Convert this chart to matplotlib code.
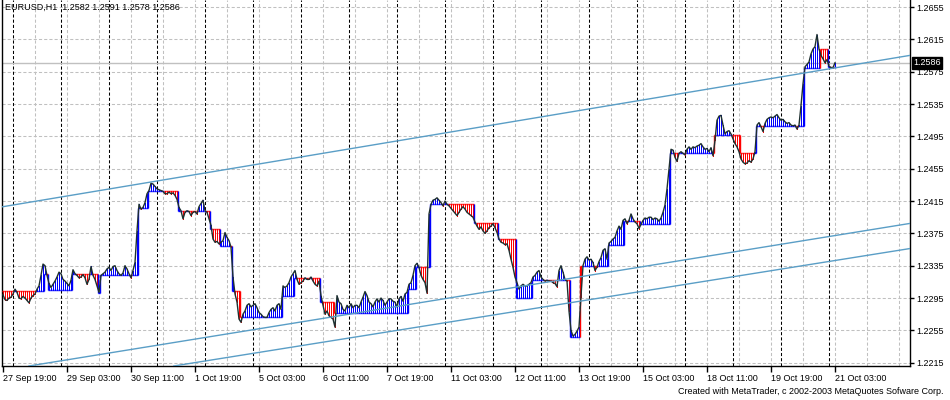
import numpy as np
import matplotlib
matplotlib.use("Agg")
import matplotlib.pyplot as plt
import matplotlib.transforms as mtrans
from matplotlib.collections import LineCollection

plt.rcParams['font.family'] = ['Liberation Sans', 'DejaVu Sans']

title_text = "EURUSD,H1  1.2582 1.2591 1.2578 1.2586"
credit_text = "Created with MetaTrader, c 2002-2003 MetaQuotes Sofware Corp."

# hourly closes, one per H1 bar (27 Sep 19:00 ... 21 Oct 03:00)
close = [
    1.2299, 1.2293, 1.2292, 1.2295, 1.2296, 1.2300, 1.2306, 1.2302, 1.2295, 1.2294,
    1.2297, 1.2295, 1.2292, 1.2289, 1.2295, 1.2298, 1.2300, 1.2306, 1.2310, 1.2323,
    1.2337, 1.2335, 1.2323, 1.2313, 1.2308, 1.2312, 1.2316, 1.2321, 1.2327, 1.2325,
    1.2318, 1.2316, 1.2313, 1.2310, 1.2317, 1.2330, 1.2325, 1.2323, 1.2320, 1.2321,
    1.2324, 1.2320, 1.2312, 1.2318, 1.2334, 1.2323, 1.2318, 1.2310, 1.2302, 1.2323,
    1.2325, 1.2327, 1.2331, 1.2333, 1.2329, 1.2334, 1.2335, 1.2329, 1.2325, 1.2323,
    1.2326, 1.2335, 1.2331, 1.2325, 1.2320, 1.2329, 1.2339, 1.2378, 1.2411, 1.2405,
    1.2407, 1.2413, 1.2424, 1.2428, 1.2437, 1.2436, 1.2433, 1.2430, 1.2429, 1.2428,
    1.2427, 1.2424, 1.2424, 1.2426, 1.2424, 1.2425, 1.2422, 1.2417, 1.2407, 1.2403,
    1.2393, 1.2401, 1.2403, 1.2402, 1.2397, 1.2401, 1.2402, 1.2399, 1.2408, 1.2412,
    1.2416, 1.2403, 1.2401, 1.2393, 1.2385, 1.2368, 1.2364, 1.2365, 1.2362, 1.2364,
    1.2366, 1.2376, 1.2370, 1.2366, 1.2358, 1.2321, 1.2300, 1.2290, 1.2269, 1.2265,
    1.2275, 1.2279, 1.2286, 1.2288, 1.2284, 1.2286, 1.2288, 1.2283, 1.2277, 1.2275,
    1.2272, 1.2271, 1.2271, 1.2277, 1.2281, 1.2283, 1.2279, 1.2286, 1.2288, 1.2281,
    1.2310, 1.2308, 1.2310, 1.2314, 1.2321, 1.2325, 1.2329, 1.2318, 1.2312, 1.2314,
    1.2316, 1.2320, 1.2318, 1.2318, 1.2321, 1.2316, 1.2312, 1.2310, 1.2316, 1.2298,
    1.2286, 1.2275, 1.2279, 1.2273, 1.2271, 1.2269, 1.2259, 1.2298, 1.2290, 1.2288,
    1.2281, 1.2279, 1.2286, 1.2283, 1.2288, 1.2283, 1.2286, 1.2286, 1.2283, 1.2290,
    1.2296, 1.2303, 1.2298, 1.2290, 1.2288, 1.2284, 1.2290, 1.2294, 1.2290, 1.2295,
    1.2292, 1.2286, 1.2290, 1.2294, 1.2294, 1.2291, 1.2290, 1.2284, 1.2294, 1.2297,
    1.2291, 1.2300, 1.2302, 1.2312, 1.2314, 1.2323, 1.2335, 1.2338, 1.2333, 1.2323,
    1.2318, 1.2314, 1.2301, 1.2399, 1.2411, 1.2416, 1.2417, 1.2419, 1.2416, 1.2413,
    1.2409, 1.2415, 1.2411, 1.2409, 1.2406, 1.2403, 1.2400, 1.2397, 1.2401, 1.2405,
    1.2408, 1.2405, 1.2401, 1.2399, 1.2397, 1.2395, 1.2389, 1.2384, 1.2380, 1.2383,
    1.2378, 1.2375, 1.2378, 1.2382, 1.2384, 1.2387, 1.2382, 1.2376, 1.2368, 1.2364,
    1.2363, 1.2361, 1.2362, 1.2354, 1.2343, 1.2333, 1.2321, 1.2314, 1.2306, 1.2310,
    1.2312, 1.2310, 1.2310, 1.2312, 1.2314, 1.2321, 1.2323, 1.2327, 1.2329, 1.2321,
    1.2318, 1.2316, 1.2317, 1.2316, 1.2316, 1.2314, 1.2313, 1.2309, 1.2329, 1.2335,
    1.2327, 1.2318, 1.2316, 1.2279, 1.2255, 1.2248, 1.2250, 1.2254, 1.2259, 1.2296,
    1.2335, 1.2343, 1.2346, 1.2342, 1.2343, 1.2339, 1.2329, 1.2333, 1.2340, 1.2345,
    1.2354, 1.2356, 1.2343, 1.2363, 1.2365, 1.2368, 1.2370, 1.2378, 1.2384, 1.2380,
    1.2391, 1.2393, 1.2387, 1.2391, 1.2399, 1.2393, 1.2389, 1.2387, 1.2381, 1.2386,
    1.2391, 1.2394, 1.2393, 1.2395, 1.2395, 1.2392, 1.2394, 1.2393, 1.2390, 1.2394,
    1.2401, 1.2410, 1.2430, 1.2455, 1.2479, 1.2478, 1.2469, 1.2464, 1.2474, 1.2476,
    1.2474, 1.2472, 1.2479, 1.2482, 1.2479, 1.2482, 1.2481, 1.2483, 1.2484, 1.2486,
    1.2482, 1.2479, 1.2480, 1.2476, 1.2481, 1.2471, 1.2490, 1.2515, 1.2520, 1.2521,
    1.2509, 1.2498, 1.2501, 1.2502, 1.2498, 1.2492, 1.2486, 1.2482, 1.2476, 1.2467,
    1.2463, 1.2461, 1.2462, 1.2465, 1.2463, 1.2467, 1.2476, 1.2509, 1.2512, 1.2507,
    1.2501, 1.2511, 1.2516, 1.2518, 1.2519, 1.2518, 1.2520, 1.2522, 1.2518, 1.2515,
    1.2516, 1.2513, 1.2511, 1.2512, 1.2509, 1.2508, 1.2509, 1.2504, 1.2509, 1.2533,
    1.2560, 1.2581, 1.2584, 1.2587, 1.2597, 1.2603, 1.2606, 1.2621, 1.2603, 1.2595,
    1.2591, 1.2586, 1.2590, 1.2582, 1.2580, 1.2580, 1.2586,
]

# step level of the indicator: first bar of each step and its price
level_start = [0, 21, 23, 35, 48, 49, 68, 73, 88, 104, 109, 115, 119, 140, 146, 159,
               166, 203, 207, 214, 236, 248, 257, 265, 284, 289, 303, 311, 319, 334,
               356, 369, 377, 401, 409, 413]
level_value = [1.2304, 1.2325, 1.2305, 1.2325, 1.2301, 1.2323, 1.2406, 1.2427, 1.2403,
               1.2380, 1.2359, 1.2304, 1.2271, 1.2298, 1.2320, 1.2290, 1.2277, 1.2306,
               1.2333, 1.2411, 1.2388, 1.2368, 1.2295, 1.2317, 1.2247, 1.2335, 1.2361,
               1.2390, 1.2386, 1.2474, 1.2497, 1.2474, 1.2508, 1.2580, 1.2603, 1.2581]

# trend lines: two anchor points (bar, price)
trend_upper = [(0, 1.2408), (438.5, 1.2589)]
trend_mid = [(208.5, 1.22892), (438.5, 1.23813)]
trend_low = [(208.5, 1.22595), (438.5, 1.23503)]

tick_labels = ["27 Sep 19:00", "29 Sep 03:00", "30 Sep 11:00", "1 Oct 19:00",
               "5 Oct 03:00", "6 Oct 11:00", "7 Oct 19:00", "11 Oct 03:00",
               "12 Oct 11:00", "13 Oct 19:00", "15 Oct 03:00", "18 Oct 11:00",
               "19 Oct 19:00", "21 Oct 03:00"]
price_ticks = [1.2655, 1.2615, 1.2575, 1.2535, 1.2495, 1.2455, 1.2415, 1.2375,
               1.2335, 1.2295, 1.2255, 1.2215]
last_price = 1.2586

# ---------------------------------------------------------------------------
n = len(close)
bars = np.arange(n)
close_a = np.array(close)
level = np.repeat(level_value, np.diff(level_start + [n]))
up = close_a >= level
cols = np.where(up, '#0000ff', '#ff0000')

fig = plt.figure(figsize=(9.5, 4), dpi=100)
ax = fig.add_axes([2 / 950, 34 / 400, 908 / 950, 366 / 400])
ax.set_xlim(-0.5, 453.5)
ax.set_ylim(1.22109, 1.26637)

grid_kw = dict(color='#c0c0c0', lw=0.75, ls=(0, (3, 2)), zorder=0)
for p in price_ticks:
    ax.axhline(p, **grid_kw)
for b in range(16, 454, 16):
    ax.axvline(b, **grid_kw)

# day separators (midnight bars)
for b in range(5, n, 24):
    ax.axvline(b, color='black', lw=0.75, ls=(0, (3, 2)), zorder=1)

# current price line
ax.axhline(last_price, color='#c0c0c0', lw=1.0, zorder=1)

# histogram between level and close
segs = [[(i, level[i]), (i, close_a[i])] for i in range(n)]
ax.add_collection(LineCollection(segs, colors=cols, linewidths=0.5,
                                 antialiaseds=False, zorder=2))

# level steps
hsegs = [[(i - 0.5, level[i]), (i + 0.5, level[i])] for i in range(n)]
hcols = list(cols)
for i in range(1, n):
    if level[i] != level[i - 1]:
        hsegs.append([(i - 0.5, level[i - 1]), (i - 0.5, level[i])])
        hcols.append(cols[i])
ax.add_collection(LineCollection(hsegs, colors=hcols, linewidths=1.0, zorder=3))

# close line
ax.plot(bars, close_a, color='#1e3030', lw=1.0, zorder=4)

# trend lines
for tl in (trend_upper, trend_mid, trend_low):
    ax.axline(tl[0], tl[1], color='#5a9ec6', lw=1.0, zorder=5)

# axes styling
for s in ('left', 'bottom', 'right'):
    ax.spines[s].set_color('black')
    ax.spines[s].set_linewidth(1.0)
ax.spines['top'].set_visible(False)

ax.yaxis.tick_right()
ax.set_yticks(price_ticks)
ax.set_yticklabels([f"{p:.4f}" for p in price_ticks])
ax.tick_params(axis='y', direction='out', length=3, width=1, pad=1.5,
               labelsize=6.5, colors='black')

ax.set_xticks(list(range(0, 32 * len(tick_labels), 32)))
ax.set_xticklabels(tick_labels)
for lbl in ax.get_xticklabels():
    lbl.set_ha('left')
ax.tick_params(axis='x', direction='out', length=4, width=1, pad=2,
               labelsize=6.5, colors='black')

ax.text(0.003, 0.979, title_text, transform=ax.transAxes, fontsize=6.5,
        va='center', ha='left', color='black', zorder=10)

trans = mtrans.blended_transform_factory(ax.transAxes, ax.transData)
ax.text(1.0035, last_price, f"{last_price:.4f}", transform=trans, fontsize=6.5,
        va='center', ha='left', color='white', clip_on=False, zorder=10,
        bbox=dict(facecolor='black', edgecolor='black', pad=1.2))

fig.text(944 / 950, 1 - 392 / 400, credit_text, ha='right', va='center',
         fontsize=6.5, color='black')

fig.savefig('out.png', dpi=100, facecolor='white')
